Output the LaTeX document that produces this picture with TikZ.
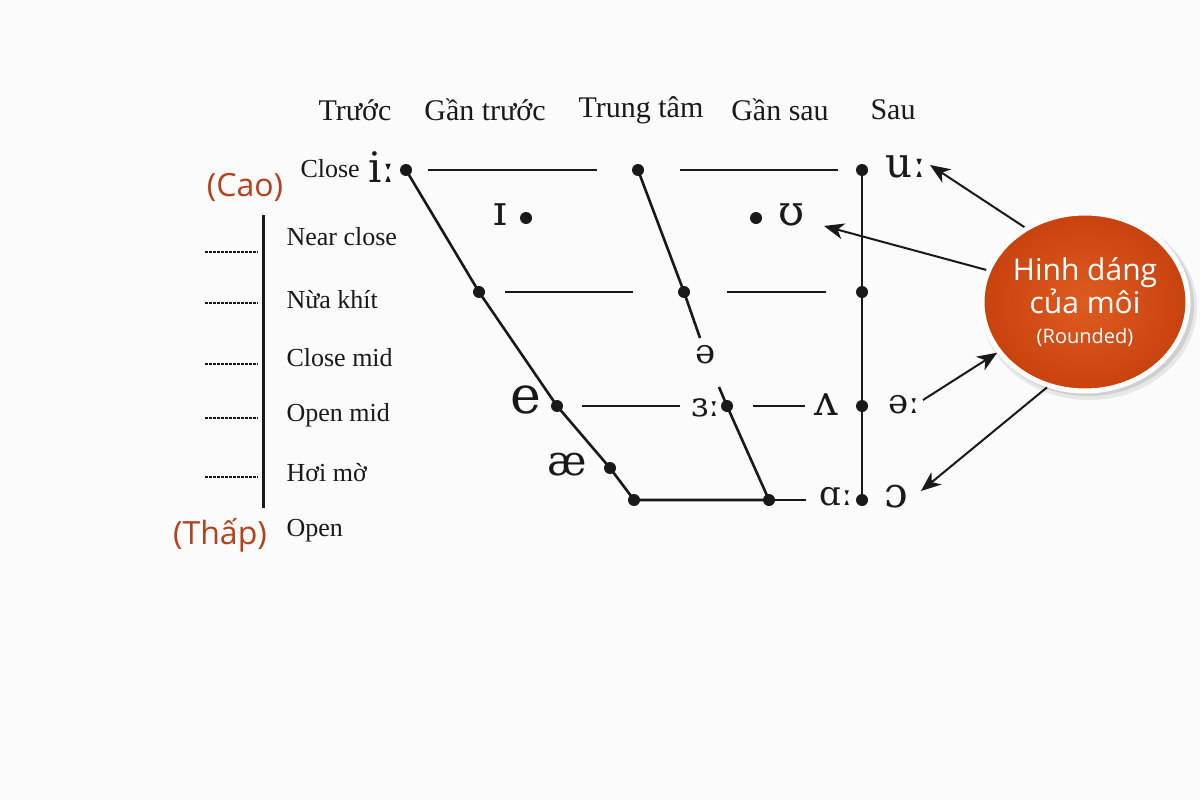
\documentclass[tikz,border=0pt]{standalone}
\usepackage{fontspec}
\setmainfont{Liberation Serif}
\newfontfamily\ipafont{DejaVu Serif}
\newfontfamily\sansf{Open Sans}
\usetikzlibrary{shapes.geometric,arrows.meta,shadows}
\definecolor{bg}{RGB}{251,251,251}
\definecolor{redtxt}{RGB}{178,66,28}
\definecolor{lipin}{RGB}{222,92,32}
\definecolor{lipout}{RGB}{200,66,14}
\definecolor{ink}{RGB}{25,25,25}
\begin{document}
\begin{tikzpicture}[x=1pt,y=-1pt,
  dotn/.style={circle,fill=ink,inner sep=0pt,minimum size=12pt},
  hdr/.style={font=\fontsize{30}{34}\selectfont,text=ink},
  lvl/.style={font=\fontsize{26}{30}\selectfont,text=ink,anchor=west},
  ipa/.style={font=\ipafont\fontsize{42}{46}\selectfont,text=ink},
  ipas/.style={font=\ipafont\fontsize{34}{38}\selectfont,text=ink},
  redl/.style={font=\sansf\fontsize{32}{36}\selectfont,text=redtxt},
  ln/.style={line width=2.6pt,draw=ink},
  dsh/.style={line width=1.4pt,draw=ink,dash pattern=on 2.5pt off 1.5pt},
  arr/.style={line width=2pt,draw=ink,-{Stealth[length=20pt,width=16pt,inset=6pt]}}
]
\fill[bg] (0,0) rectangle (1200,800);
\useasboundingbox (0,0) rectangle (1200,800);

% headers
\node[hdr] (h1) at (355,110) {Trước};
\node[hdr] (h2) at (485,110) {Gần trước};
\node[hdr] (h3) at (641,110) {Trung tâm};
\node[hdr] (h4) at (780,110) {Gần sau};
\node[hdr] (h5) at (893,110) {Sau};

% left scale
\node[redl] (cao) at (245,187) {(Cao)};
\node[redl] (thap) at (220,535) {(Thấp)};
\coordinate (vb1) at (263,215);
\coordinate (vb2) at (263,508);
\draw[line width=3pt,ink] (vb1) -- (vb2);
\foreach \yy/\nm in {252/d1,303/d2,364/d3,418/d4,477/d5}{
  \coordinate (\nm a) at (205,\yy);
  \coordinate (\nm b) at (258,\yy);
  \draw[dsh] (\nm a) -- (\nm b);
}
\node[lvl] (lc) at (297,169) {Close};
\node[lvl] (l1) at (283,237) {Near close};
\node[lvl] (l2) at (283,300) {Nừa khít};
\node[lvl] (l3) at (283,358) {Close mid};
\node[lvl] (l4) at (283,415) {Open mid};
\node[lvl] (l5) at (283,473) {Hơi mờ};
\node[lvl] (l6) at (283,531) {Open};

% dots
\node[dotn] (f1) at (406,170) {};
\node[dotn] (f2) at (479,292) {};
\node[dotn] (f3) at (557,406) {};
\node[dotn] (f4) at (610,468) {};
\node[dotn] (f5) at (634,500) {};
\node[dotn] (c1) at (638,170) {};
\node[dotn] (c2) at (684,292) {};
\node[dotn] (c3) at (727,406) {};
\node[dotn] (c4) at (769,500) {};
\node[dotn] (b1) at (862,170) {};
\node[dotn] (b2) at (862,292) {};
\node[dotn] (b3) at (862,406) {};
\node[dotn] (b4) at (862,500) {};
\node[dotn] (nf) at (526,218) {};
\node[dotn] (nb) at (756,218) {};

% frame lines
\draw[ln] (f1.center) -- (f2.center) -- (f3.center) -- (f4.center) -- (f5.center) -- (c4.center);
\draw[ln] (b1.center) -- (b4.center);
\coordinate (cbrk1) at (700,338);
\coordinate (cbrk2) at (719,387);
\draw[ln] (c1.center) -- (c2.center) -- (cbrk1);
\draw[ln] (cbrk2) -- (c3.center) -- (c4.center);
\coordinate (rr) at (806,500);
\draw[ln] (c4.center) -- (rr);

% horizontal segments
\coordinate (s1a) at (428,170); \coordinate (s1b) at (597,170);
\coordinate (s2a) at (680,170); \coordinate (s2b) at (838,170);
\coordinate (s3a) at (505,292); \coordinate (s3b) at (633,292);
\coordinate (s4a) at (727,292); \coordinate (s4b) at (826,292);
\coordinate (s5a) at (582,406); \coordinate (s5b) at (680,406);
\coordinate (s6a) at (753,406); \coordinate (s6b) at (805,406);
\foreach \p in {1,...,6}{\draw[ln] (s\p a) -- (s\p b);}

% IPA symbols
\node[ipa] (ii) at (382,167) {iː};
\node[ipa] (uu) at (906,167) {uː};
\node[ipa] (ih) at (500,215) {ɪ};
\node[ipa] (uh) at (792,215) {ʊ};
\node[ipas] (sch) at (706,355) {ə};
\node[ipa,font=\ipafont\fontsize{52}{56}\selectfont] (ee) at (526,400) {e};
\node[ipas] (er) at (706,408) {ɜː};
\node[ipa] (vv) at (826,405) {ʌ};
\node[ipas] (oo) at (904,405) {əː};
\node[ipa] (ae) at (567,465) {æ};
\node[ipas] (aa) at (836,497) {ɑː};
\node[ipa] (oh) at (896,497) {ɔ};

% lip circle
\fill[black,opacity=0.10] (1088,305) ellipse (106pt and 91pt);
\fill[black,opacity=0.08] (1089,307) ellipse (108pt and 93pt);
\node[ellipse,draw=white,line width=5pt,minimum width=206pt,minimum height=178pt,
  inner color=lipin,outer color=lipout,
  text=white,align=center,inner sep=0pt,
  font=\sansf\fontsize{30}{36}\selectfont] (lip) at (1085,302)
  {Hinh dáng\\[-3pt] của môi\\[-6pt] {\fontsize{20}{24}\selectfont (Rounded)}};

\coordinate (tu) at (930,165);
\coordinate (tuh) at (824,226);
\coordinate (toe) at (923,400);
\coordinate (toh) at (921,491);
\draw[arr] (lip.129) -- (tu);
\draw[arr] (lip.162) -- (tuh);
\draw[arr] (toe) -- (lip.210);
\draw[arr] (lip.246) -- (toh);
\end{tikzpicture}
\end{document}
